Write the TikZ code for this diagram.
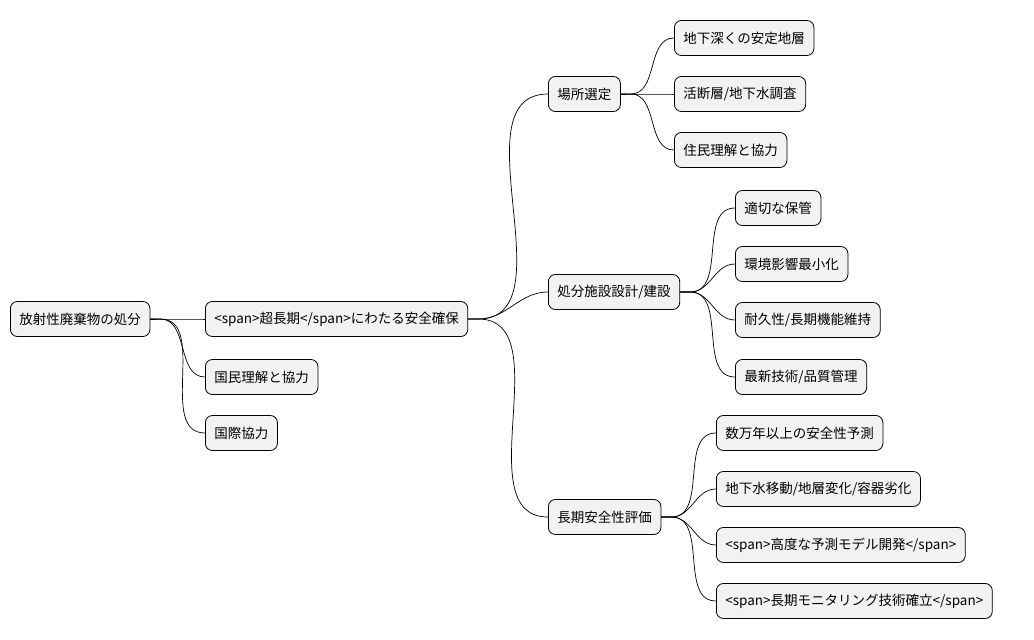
\documentclass[tikz,border=0pt]{standalone}
\usepackage{fontspec}
\setmainfont{Noto Sans CJK JP}
\begin{document}
\begin{tikzpicture}[
  x=1pt, y=-1pt,
  line cap=round,
  line join=round,
  topic/.style={draw=black, fill=black!5, rounded corners=7pt, line width=0.8pt,
    minimum height=35pt, inner xsep=9pt, anchor=west, font=\fontsize{13.5}{15}\selectfont},
  link/.style={line width=0.7pt}
]
\useasboundingbox (0,0) rectangle (1034,640);

% --- root and first level ---
\node[topic] (root) at (10,319) {放射性廃棄物の処分};
\node[topic] (safe) at (205,319) {<span>超長期</span>にわたる安全確保};
\node[topic] (pub) at (205,377) {国民理解と協力};
\node[topic] (intl) at (205,433) {国際協力};

% --- second level ---
\node[topic] (site) at (548,94) {場所選定};
\node[topic] (fac) at (548,292) {処分施設設計/建設};
\node[topic] (eval) at (548,517) {長期安全性評価};

% --- leaves ---
\node[topic] (s1) at (674,38) {地下深くの安定地層};
\node[topic] (s2) at (674,94) {活断層/地下水調査};
\node[topic] (s3) at (674,150) {住民理解と協力};

\node[topic] (f1) at (735,208) {適切な保管};
\node[topic] (f2) at (735,264) {環境影響最小化};
\node[topic] (f3) at (735,320) {耐久性/長期機能維持};
\node[topic] (f4) at (735,377) {最新技術/品質管理};

\node[topic] (e1) at (716,433) {数万年以上の安全性予測};
\node[topic] (e2) at (716,489) {地下水移動/地層変化/容器劣化};
\node[topic] (e3) at (716,545) {<span>高度な予測モデル開発</span>};
\node[topic] (e4) at (716,601) {<span>長期モニタリング技術確立</span>};

% --- connectors ---
\foreach \p/\c in {root/safe, root/pub, root/intl,
                   safe/site, safe/fac, safe/eval,
                   site/s1, site/s2, site/s3,
                   fac/f1, fac/f2, fac/f3, fac/f4,
                   eval/e1, eval/e2, eval/e3, eval/e4}
  \draw[link] (\p.east) -- ++(10,0) to[out=0,in=180] (\c.west);
\end{tikzpicture}
\end{document}
